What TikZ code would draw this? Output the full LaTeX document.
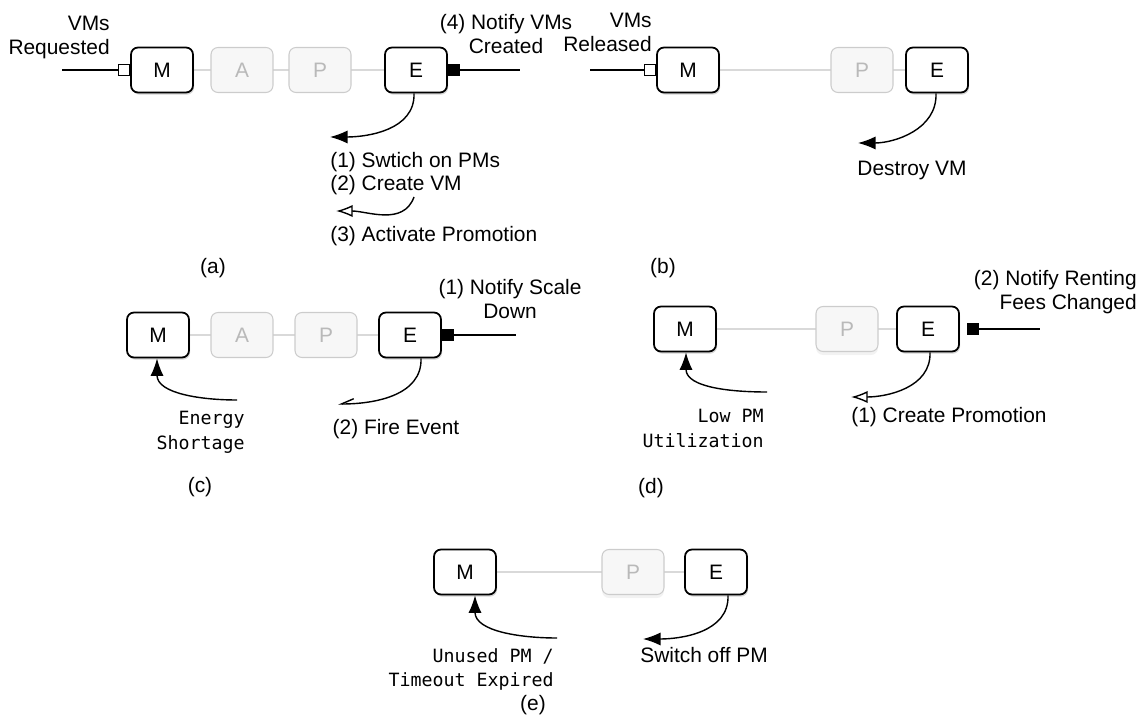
\documentclass[tikz,border=0pt]{standalone}
\usepackage{fontspec}
\setmainfont{Liberation Sans}
\newfontfamily\monofont{DejaVu Sans Mono}
\usetikzlibrary{positioning, arrows.meta, shadows, backgrounds}

\begin{document}
\begin{tikzpicture}[
  x=0.02cm, y=-0.02cm,
  font=\fontsize{11.9}{13.5}\selectfont,
  block/.style={draw, line width=1pt, rounded corners=4pt, fill=white, minimum width=1.24cm, minimum height=0.9cm, drop shadow={shadow xshift=0.6pt, shadow yshift=-1.2pt, opacity=0.35}},
  ghost/.style={draw=gray!40, line width=0.6pt, rounded corners=4pt, fill=gray!6, text=gray!55, minimum width=1.24cm, minimum height=0.9cm},
  ghostsh/.style={ghost, drop shadow={shadow xshift=0pt, shadow yshift=-2pt, opacity=0.1}},
  inport/.style={draw, line width=0.8pt, fill=white, minimum size=0.22cm, inner sep=0pt},
  outport/.style={draw, line width=0.8pt, fill=black, minimum size=0.22cm, inner sep=0pt},
  link/.style={draw=gray!30, line width=0.7pt},
  wire/.style={line width=0.8pt},
  trig/.style={line width=0.8pt, -{Latex[length=10pt, width=7.5pt]}},
  trigopen/.style={line width=0.8pt, -{Latex[open, length=9.5pt, width=7pt]}},
  trighalf/.style={line width=0.8pt, -{Straight Barb[harpoon, swap, length=7pt, width=6pt]}},
  lbl/.style={inner sep=0pt},
  code/.style={inner sep=0pt, font=\monofont\fontsize{10.4}{14}\selectfont, align=right}
]
\useasboundingbox (0,0) rectangle (1141,722);

% (a) VMs requested
\node[block] (mA) at (162,70) {M};
\node[ghost] (aA) at (242,70) {A};
\node[ghost] (pA) at (320,70) {P};
\node[block] (eA) at (416,70) {E};
\node[inport, anchor=east] (inA) at (mA.west) {};
\node[outport, anchor=west] (outA) at (eA.east) {};
\coordinate (srcA) at (62,70);
\coordinate (dstA) at (520,70);
\coordinate (tipA1) at (330,137);
\coordinate (srcA2) at (414,197);
\coordinate (tipA2) at (336,211);
\node[lbl, align=right, anchor=north east] (reqA) at (110,16) {VMs\\Requested};
\node[lbl, align=center, anchor=north] (notA) at (506,14) {(4) Notify VMs\\Created};
\node[lbl, anchor=north west] (swA) at (330,152) {(1) Swtich on PMs};
\node[lbl, anchor=north west] (crA) at (330,175) {(2) Create VM};
\node[lbl, anchor=north west] (prA) at (330,226) {(3) Activate Promotion};
\node (capA) at (213,268) {(a)};
\begin{scope}[on background layer]
  \draw[link] (mA) -- (eA);
\end{scope}
\draw[wire] (srcA) -- (inA);
\draw[wire] (outA) -- (dstA);
\draw[trig] ([xshift=-0.04cm]eA.south) to[out=-88, in=0] (tipA1);
\draw[trigopen] (srcA2) to[out=-110, in=0] (tipA2);

% (b) VMs released
\node[block] (mB) at (688,70) {M};
\node[ghost] (pB) at (862,70) {P};
\node[block] (eB) at (937,70) {E};
\node[inport, anchor=east] (inB) at (mB.west) {};
\coordinate (srcB) at (590,70);
\coordinate (tipB) at (858,143);
\node[lbl, align=right, anchor=north east] (relB) at (652,13) {VMs\\Released};
\node[lbl] (desB) at (912,170) {Destroy VM};
\node (capB) at (663,268) {(b)};
\begin{scope}[on background layer]
  \draw[link] (mB) -- (eB);
\end{scope}
\draw[wire] (srcB) -- (inB);
\draw[trig] ([xshift=-0.02cm]eB.south) to[out=-88, in=0] (tipB);

% (c) energy shortage
\node[block] (mC) at (158,335) {M};
\node[ghost] (aC) at (242,335) {A};
\node[ghost] (pC) at (326,335) {P};
\node[block] (eC) at (410,335) {E};
\node[outport, anchor=west] (outC) at (eC.east) {};
\coordinate (dstC) at (516,335);
\coordinate (srcC) at (237,400);
\coordinate (tipC) at (338,404);
\node[lbl, align=center, anchor=north] (scC) at (510,279) {(1) Notify Scale\\Down};
\node[code, anchor=north east] (engC) at (245,411) {Energy\\Shortage};
\node[lbl] (fireC) at (396,429) {(2) Fire Event};
\node (capC) at (200,487) {(c)};
\begin{scope}[on background layer]
  \draw[link] (mC) -- (eC);
\end{scope}
\draw[wire] (outC) -- (dstC);
\draw[trig] (srcC) to[out=180, in=-90] ([xshift=-0.02cm]mC.south);
\draw[trighalf] ([xshift=0.22cm]eC.south) to[out=-88, in=0] (tipC);

% (d) low utilization
\node[block] (mD) at (685,329) {M};
\node[ghostsh] (pD) at (847,329) {P};
\node[block] (eD) at (928,329) {E};
\node[outport, anchor=west] (outD) at ([xshift=0.14cm]eD.east) {};
\coordinate (dstD) at (1040,329);
\coordinate (srcD) at (767,392);
\coordinate (tipD) at (851,397);
\node[lbl, align=right, anchor=north east] (feeD) at (1137,270) {(2) Notify Renting\\Fees Changed};
\node[code, anchor=north east] (lowD) at (764,409) {Low PM\\Utilization};
\node[lbl, anchor=north west] (proD) at (851,407) {(1) Create Promotion};
\node (capD) at (651,488) {(d)};
\begin{scope}[on background layer]
  \draw[link] (mD) -- (eD);
\end{scope}
\draw[wire] (outD) -- (dstD);
\draw[trig] (srcD) to[out=180, in=-90] ([xshift=0.02cm]mD.south);
\draw[trigopen] ([xshift=0.04cm]eD.south) to[out=-88, in=0] (tipD);

% (e) unused PM
\node[block] (mE) at (465,572) {M};
\node[ghostsh] (pE) at (633,572) {P};
\node[block] (eE) at (716,572) {E};
\coordinate (srcE) at (557,638);
\coordinate (tipE) at (643,639);
\node[code, anchor=north east] (unE) at (554,648) {Unused PM /\\Timeout Expired};
\node[lbl, anchor=north west] (offE) at (640,647) {Switch off PM};
\node (capE) at (533,705) {(e)};
\begin{scope}[on background layer]
  \draw[link] (mE) -- (eE);
\end{scope}
\draw[trig] (srcE) to[out=180, in=-90] ([xshift=0.2cm]mE.south);
\draw[trig] ([xshift=0.24cm]eE.south) to[out=-88, in=0] (tipE);
\end{tikzpicture}
\end{document}
